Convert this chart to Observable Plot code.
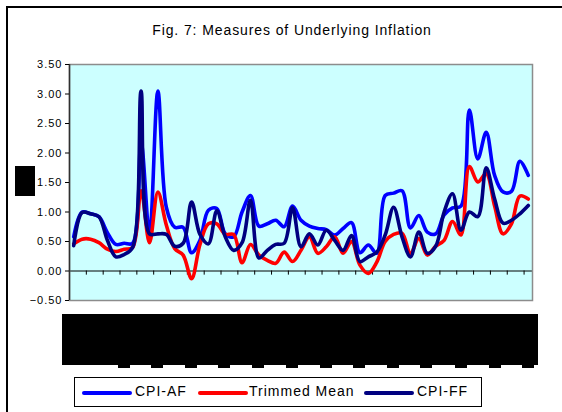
<!DOCTYPE html>
<html><head><meta charset="utf-8">
<script src="https://cdn.jsdelivr.net/npm/d3@7"></script>
<script src="https://cdn.jsdelivr.net/npm/@observablehq/plot@0.6"></script>
<style>
html,body{margin:0;padding:0;background:#fff;}
#wrap{position:relative;width:562px;height:412px;overflow:hidden;font-family:"Liberation Sans",Arial,sans-serif;color:#000;}
#outer{position:absolute;left:6px;top:6px;width:620px;height:520px;border-left:2px solid #000;border-top:2px solid #000;}
#title{position:absolute;left:0;top:23px;width:584px;text-align:center;font-size:14px;line-height:14px;letter-spacing:0.9px;white-space:nowrap;}
#chart{position:absolute;left:0;top:0;}
#chart svg text{letter-spacing:1px;}
.redact{position:absolute;background:#000;}
#legend{position:absolute;left:74px;top:377px;width:406px;height:28px;border:1px solid #000;background:#fff;}
.sw{position:absolute;top:13px;width:50px;height:4px;border-radius:2px;}
.lt{position:absolute;top:4px;font-size:14px;line-height:18px;letter-spacing:1px;white-space:nowrap;}
</style>
</head><body>
<div id="wrap">
  <div id="outer"></div>
  <div id="title">Fig. 7: Measures of Underlying Inflation</div>
  <div id="chart"></div>
  <div class="redact" style="left:15px;top:166px;width:20px;height:30px"></div>
  <div id="xred"></div>
  <div id="legend"></div>
</div>
<script>
// Series values (one per period; period labels are not legible in the source)
const cpiAF = [0.58,1.00,0.97,0.92,0.65,0.45,0.47,0.47,2.18,0.63,3.05,1.08,0.74,0.74,0.31,0.52,1.03,1.06,0.63,0.58,1.00,1.28,0.76,0.80,0.86,0.75,1.10,0.86,0.76,0.72,0.70,0.61,0.72,0.82,0.31,0.44,0.30,1.28,1.32,1.36,0.73,0.94,0.66,0.63,0.95,1.07,1.10,2.73,1.90,2.35,1.62,1.34,1.35,1.86,1.62];
const trimmedMean = [0.46,0.54,0.54,0.48,0.37,0.33,0.37,0.40,1.36,0.48,1.34,0.78,0.38,0.27,-0.13,0.45,0.80,0.80,0.62,0.62,0.14,0.45,0.27,0.18,0.13,0.32,0.16,0.35,0.58,0.30,0.41,0.58,0.30,0.50,0.10,-0.04,0.15,0.50,0.62,0.64,0.30,0.55,0.27,0.42,0.52,0.84,0.61,1.77,1.51,1.65,1.10,0.63,0.80,1.27,1.22];
const cpiFF = [0.43,0.99,0.97,0.92,0.52,0.24,0.28,0.40,3.05,0.63,0.63,0.62,0.42,0.47,1.17,0.62,0.46,1.02,0.58,0.35,0.48,1.20,0.22,0.35,0.45,0.47,1.07,0.41,0.63,0.44,0.69,0.52,0.35,0.60,0.16,0.24,0.32,0.61,1.08,0.58,0.24,0.66,0.30,0.42,1.00,1.31,0.69,1.00,0.92,1.75,1.22,0.81,0.86,0.97,1.11];
const seriesNames = ["CPI-AF", "Trimmed Mean", "CPI-FF"];
const seriesColors = ["#0000ff", "#ff0000", "#000080"];
const yTicks = [-0.5, 0, 0.5, 1, 1.5, 2, 2.5, 3, 3.5];
const chartTitle = "Fig. 7: Measures of Underlying Inflation";

const n = cpiAF.length;
const seriesValues = [cpiAF, trimmedMean, cpiFF];
const rows = seriesValues.flatMap((vals, s) => vals.map((v, i) => ({series: seriesNames[s], x: i + 0.5, y: v})));
const catTicks = d3.range(2, n, 2);

const plot = Plot.plot({
  width: 562, height: 412,
  marginLeft: 69, marginRight: 30, marginTop: 64, marginBottom: 112,
  style: {background: "transparent", fontFamily: "Liberation Sans, Arial, sans-serif", fontSize: "11px", color: "#000", overflow: "visible"},
  x: {domain: [0, n], axis: null},
  y: {domain: [-0.5, 3.5], axis: null},
  color: {domain: seriesNames, range: seriesColors},
  marks: [
    Plot.frame({fill: "#ccffff", stroke: null}),
    Plot.ruleY([0], {stroke: "#000", strokeWidth: 1}),
    Plot.ruleX(catTicks, {x: d => d, y1: 0, y2: -0.07, stroke: "#000", strokeWidth: 1}),
    Plot.line(rows, {x: "x", y: "y", z: "series", stroke: "series", strokeWidth: 3.6, curve: "catmull-rom"}),
    Plot.frame({stroke: "#8c8c8c", strokeWidth: 1.5}),
    Plot.ruleX([0], {stroke: "#303030", strokeWidth: 1.5}),
    Plot.axisY({ticks: yTicks, tickFormat: d3.format(".2f"), tickSize: 4, tickPadding: 3, anchor: "left", label: null})
  ]
});
document.getElementById("chart").appendChild(plot);
document.getElementById("title").textContent = chartTitle;

// redaction over the (illegible) category labels
const xred = document.getElementById("xred");
const big = document.createElement("div");
big.className = "redact";
Object.assign(big.style, {left: "62px", top: "314px", width: "476px", height: "51px"});
xred.appendChild(big);
[118, 151, 185, 218, 252, 286, 320, 353, 387, 420, 455, 489, 522].forEach(px => {
  const b = document.createElement("div");
  b.className = "redact";
  Object.assign(b.style, {left: px + "px", top: "364px", width: "12px", height: "4px"});
  xred.appendChild(b);
});

// legend
const legend = document.getElementById("legend");
const swX = [7, 123, 289], txX = [60, 174, 342];
seriesNames.forEach((name, i) => {
  const s = document.createElement("div");
  s.className = "sw"; s.style.left = swX[i] + "px"; s.style.background = seriesColors[i];
  legend.appendChild(s);
  const t = document.createElement("div");
  t.className = "lt"; t.style.left = txX[i] + "px"; t.textContent = name;
  legend.appendChild(t);
});
</script>
</body></html>
